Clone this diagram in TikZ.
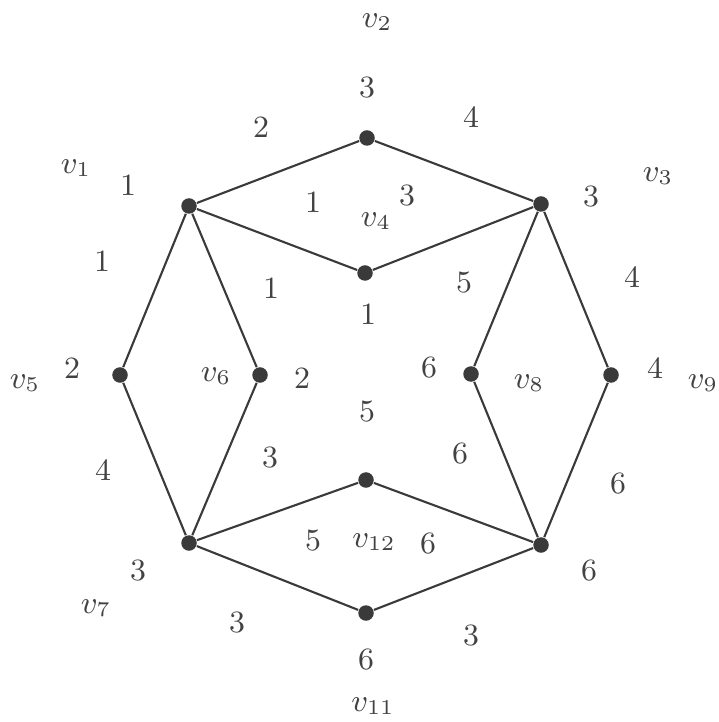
\documentclass[tikz,border=0pt]{standalone}
\usepackage{amsmath}
\usepackage{xcolor}
\usepackage{tikz}
\definecolor{graphdark}{HTML}{3A3A3A}
\definecolor{graphtext}{HTML}{424242}

\begin{document}
\begin{tikzpicture}[
    x=0.01cm,y=-0.01cm,
    vx/.style  = {circle,fill=graphdark,inner sep=0pt,minimum size=0.155cm},
    ed/.style  = {graphdark,line width=0.6pt},
    wt/.style  = {text=graphtext,inner sep=0pt,font=\fontsize{8.8}{10}\selectfont},
    nm/.style  = {text=graphtext,inner sep=0pt,font=\fontsize{8.8}{10}\selectfont},
  ]

  \clip (0,0) rectangle (719,722);

  \node[vx] (p2)  at (367,138) {};
  \node[vx] (p1)  at (189,206) {};
  \node[vx] (p3)  at (541,204) {};
  \node[vx] (p4)  at (365,273) {};
  \node[vx] (p5)  at (120,375) {};
  \node[vx] (p6)  at (260,375) {};
  \node[vx] (p8)  at (471,374) {};
  \node[vx] (p9)  at (611,375) {};
  \node[vx] (p12) at (366,480) {};
  \node[vx] (p7)  at (189,543) {};
  \node[vx] (p10) at (541,545) {};
  \node[vx] (p11) at (366,613) {};

  \draw[ed] (p1) -- (p2);
  \draw[ed] (p2) -- (p3);
  \draw[ed] (p1) -- (p4);
  \draw[ed] (p4) -- (p3);
  \draw[ed] (p1) -- (p5);
  \draw[ed] (p1) -- (p6);
  \draw[ed] (p5) -- (p7);
  \draw[ed] (p6) -- (p7);
  \draw[ed] (p3) -- (p8);
  \draw[ed] (p3) -- (p9);
  \draw[ed] (p8) -- (p10);
  \draw[ed] (p9) -- (p10);
  \draw[ed] (p7) -- (p12);
  \draw[ed] (p12) -- (p10);
  \draw[ed] (p7) -- (p11);
  \draw[ed] (p11) -- (p10);

  \node[nm] (n2)  at (377,22)  {$v_2$};
  \node[nm] (n1)  at (76,168)  {$v_1$};
  \node[nm] (n3)  at (658,176) {$v_3$};
  \node[nm] (n4)  at (376,221) {$v_4$};
  \node[nm] (n5)  at (25,383)  {$v_5$};
  \node[nm] (n6)  at (216,376) {$v_6$};
  \node[nm] (n8)  at (529,383) {$v_8$};
  \node[nm] (n9)  at (703,383) {$v_9$};
  \node[nm] (n12) at (374,542) {$v_{12}$};
  \node[nm] (n7)  at (96,608)  {$v_7$};
  \node[nm] (n11) at (373,706) {$v_{11}$};

  \node[wt] (w1)  at (367,88)  {3};
  \node[wt] (w2)  at (261,127) {2};
  \node[wt] (w3)  at (471,117) {4};
  \node[wt] (w4)  at (128,185) {1};
  \node[wt] (w5)  at (313,202) {1};
  \node[wt] (w6)  at (407,196) {3};
  \node[wt] (w7)  at (591,197) {3};
  \node[wt] (w8)  at (102,261) {1};
  \node[wt] (w9)  at (271,288) {1};
  \node[wt] (w10) at (464,283) {5};
  \node[wt] (w11) at (632,277) {4};
  \node[wt] (w12) at (368,314) {1};
  \node[wt] (w13) at (72,368)  {2};
  \node[wt] (w14) at (302,378) {2};
  \node[wt] (w15) at (429,368) {6};
  \node[wt] (w16) at (655,368) {4};
  \node[wt] (w17) at (367,412) {5};
  \node[wt] (w18) at (270,458) {3};
  \node[wt] (w19) at (460,454) {6};
  \node[wt] (w20) at (103,470) {4};
  \node[wt] (w21) at (618,484) {6};
  \node[wt] (w22) at (313,541) {5};
  \node[wt] (w23) at (428,544) {6};
  \node[wt] (w24) at (138,571) {3};
  \node[wt] (w25) at (589,571) {6};
  \node[wt] (w26) at (237,623) {3};
  \node[wt] (w27) at (471,636) {3};
  \node[wt] (w28) at (366,660) {6};

\end{tikzpicture}
\end{document}
